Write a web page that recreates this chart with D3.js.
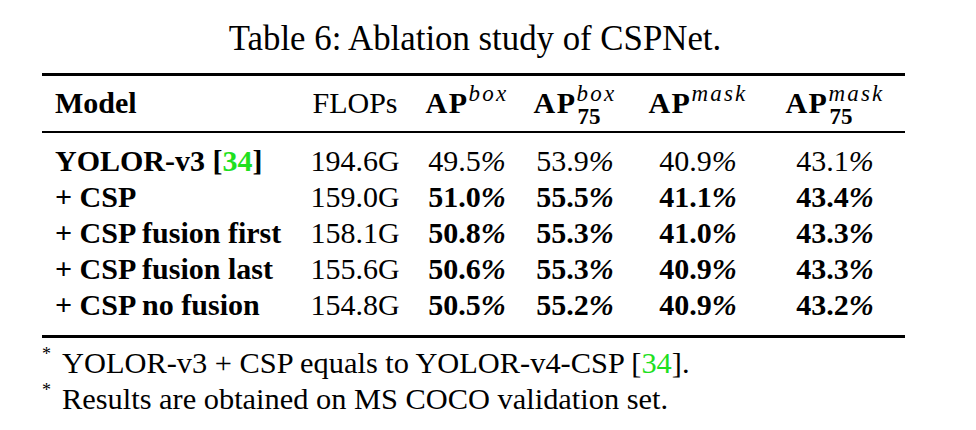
<!DOCTYPE html>
<html><head><meta charset="utf-8">
<script src="https://cdn.jsdelivr.net/npm/d3@7"></script>
<style>body{margin:0;background:#fff}svg{display:block}</style>
</head><body>
<svg id="c" width="976" height="430"></svg>
<script>
// ---- data ----
const models = ["YOLOR-v3", "+ CSP", "+ CSP fusion first", "+ CSP fusion last", "+ CSP no fusion"];
const modelCite = ["34", null, null, null, null];
const flops = ["194.6G", "159.0G", "158.1G", "155.6G", "154.8G"];
const apBox = [49.5, 51.0, 50.8, 50.6, 50.5];
const ap75Box = [53.9, 55.5, 55.3, 55.3, 55.2];
const apMask = [40.9, 41.1, 41.0, 40.9, 40.9];
const ap75Mask = [43.1, 43.4, 43.3, 43.3, 43.2];
const boldRow = [false, true, true, true, true];
const columns = ["flops", "apBox", "ap75Box", "apMask", "ap75Mask"];
const headerSup = {flops: null, apBox: "box", ap75Box: "box", apMask: "mask", ap75Mask: "mask"};
const headerSub = {flops: null, apBox: null, ap75Box: "75", apMask: null, ap75Mask: "75"};
const title = "Table 6: Ablation study of CSPNet.";
const footnotes = [["YOLOR-v3 + CSP equals to YOLOR-v4-CSP [", "34", "]."], ["Results are obtained on MS COCO validation set.", null, ""]];

// ---- layout ----
const FONT = "Liberation Serif";
const svg = d3.select("#c");
svg.append("rect").attr("width", 976).attr("height", 430).attr("fill", "#fff");
const T = () => svg.append("text").attr("font-family", FONT).attr("fill", "#000");
const green = "#1fe01f";
const FS = 30;
const x0 = 42, x1 = 905;
const modelX = 55;
const colX = d3.scaleOrdinal().domain(columns).range([355, 467, 575, 698, 835]);
const rowY = d3.scaleBand().domain(d3.range(models.length)).range([144, 324]).paddingInner(0);
const base = i => rowY(i) + rowY.bandwidth() - 9;

T().attr("x", 475).attr("y", 50).attr("text-anchor", "middle").attr("font-size", 34.8).text(title);

const rule = (y, w) => svg.append("line").attr("x1", x0).attr("x2", x1).attr("y1", y).attr("y2", y)
  .attr("stroke", "#000").attr("stroke-width", w);
rule(74.5, 3);
rule(132, 2);
rule(336.5, 3);

// header
const hy = 113;
T().attr("x", modelX).attr("y", hy).attr("font-size", FS).attr("font-weight", "bold").text("Model");
columns.forEach(c => {
  const t = T().attr("x", colX(c)).attr("y", hy).attr("font-size", FS).attr("text-anchor", "middle");
  if (c === "flops") { t.text("FLOPs"); return; }
  t.append("tspan").attr("font-weight", "bold").attr("letter-spacing", 1.5).text("AP");
  t.append("tspan").attr("font-style", "italic").attr("font-size", 23).attr("dy", -12).attr("letter-spacing", 2.2).text(headerSup[c]);
  if (headerSub[c]) {
    const bb = t.node().getBBox();
    const apW = t.select("tspan").node().getComputedTextLength();
    T().attr("x", bb.x + apW + 1).attr("y", hy + 11).attr("font-size", 23).attr("font-weight", "bold").text(headerSub[c]);
  }
});

// rows
const fmt = d3.format(".1f");
const colData = {apBox, ap75Box, apMask, ap75Mask};
models.forEach((m, i) => {
  const y = base(i);
  const t = T().attr("x", modelX).attr("y", y).attr("font-size", FS).attr("font-weight", "bold");
  t.append("tspan").text(m + (modelCite[i] ? " [" : ""));
  if (modelCite[i]) {
    t.append("tspan").attr("fill", green).text(modelCite[i]);
    t.append("tspan").text("]");
  }
  T().attr("x", colX("flops")).attr("y", y).attr("font-size", FS).attr("text-anchor", "middle").text(flops[i]);
  ["apBox", "ap75Box", "apMask", "ap75Mask"].forEach(c => {
    const v = T().attr("x", colX(c)).attr("y", y).attr("font-size", FS).attr("text-anchor", "middle")
      .attr("font-weight", boldRow[i] ? "bold" : "normal");
    v.append("tspan").text(fmt(colData[c][i]));
    v.append("tspan").attr("font-style", "italic").text("%");
  });
});

// footnotes
footnotes.forEach((f, i) => {
  const y = 373 + i * 36;
  T().attr("x", 42).attr("y", y - 13).attr("font-size", 18).text("*");
  const t = T().attr("x", 62).attr("y", y).attr("font-size", 30.4);
  t.append("tspan").text(f[0]);
  if (f[1]) { t.append("tspan").attr("fill", green).text(f[1]); t.append("tspan").text(f[2]); }
});
</script>
</body></html>
